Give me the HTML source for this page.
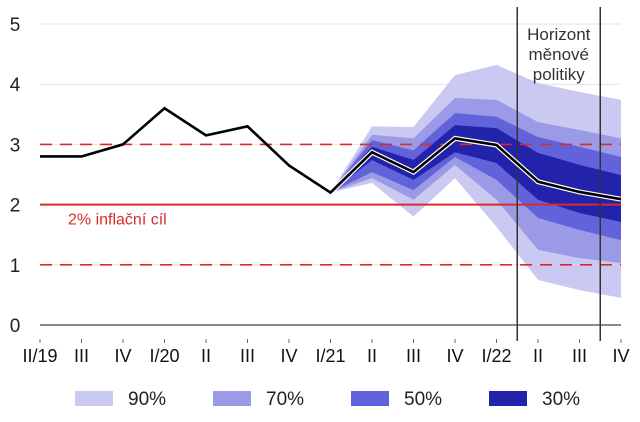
<!DOCTYPE html>
<html><head><meta charset="utf-8"><style>
body{margin:0;background:#fff;font-family:"Liberation Sans",sans-serif}
svg text{font-family:"Liberation Sans",sans-serif}
</style></head><body>
<svg id="c" width="640" height="417" xmlns="http://www.w3.org/2000/svg"></svg>
<script>
const categories=["II/19","III","IV","I/20","II","III","IV","I/21","II","III","IV","I/22","II","III","IV"];
const actualValues=[2.8,2.8,3.0,3.6,3.15,3.3,2.65,2.2,2.87,2.54,3.1,2.99,2.38,2.21,2.09];
const fanStart=7;
const band90Upper=[2.2,3.3,3.29,4.15,4.32,4.02,3.87,3.74];
const band90Lower=[2.2,2.36,1.8,2.44,1.63,0.75,0.58,0.45];
const band70Upper=[2.2,3.16,3.1,3.77,3.74,3.37,3.24,3.1];
const band70Lower=[2.2,2.44,2.08,2.66,2.08,1.25,1.11,1.03];
const band50Upper=[2.2,3.07,2.9,3.52,3.46,3.12,2.96,2.79];
const band50Lower=[2.2,2.54,2.24,2.79,2.41,1.78,1.58,1.41];
const band30Upper=[2.2,2.96,2.74,3.32,3.27,2.86,2.66,2.49];
const band30Lower=[2.2,2.74,2.41,2.87,2.69,2.08,1.86,1.71];
const yTicks=[0,1,2,3,4,5];
const targetValue=2, tolUpper=3, tolLower=1;
const horizonIdx=[11.5,13.5];
const legendLabels=["90%","70%","50%","30%"];
const colors=["#c9c9f2","#9a9ae6","#6262da","#2222aa"];

const svg=document.getElementById('c');const NS="http://www.w3.org/2000/svg";
const X0=40,X1=621,Y0=325,Y5=24;
const xs=i=>X0+i*(X1-X0)/(categories.length-1);
const ys=v=>Y0-v*(Y0-Y5)/5;
function mk(t,a,p){const e=document.createElementNS(NS,t);for(const k in a)e.setAttribute(k,a[k]);(p||svg).appendChild(e);return e;}

yTicks.forEach(v=>{
 if(v>0){const g=mk('line',{x1:X0,x2:X1,y1:ys(v),y2:ys(v),stroke:'#e2e2e2','stroke-width':1});
 
 }
 const t=mk('text',{x:15,y:ys(v)+7,'font-size':19,'text-anchor':'middle',fill:'#222'});t.textContent=v;
 
 
});
const bands=[[band90Upper,band90Lower],[band70Upper,band70Lower],[band50Upper,band50Lower],[band30Upper,band30Lower]];
bands.forEach((b,k)=>{
 let pts=[];b[0].forEach((v,i)=>pts.push(xs(fanStart+i)+','+ys(v)));
 for(let i=b[1].length-1;i>=0;i--)pts.push(xs(fanStart+i)+','+ys(b[1][i]));
 const p=mk('polygon',{points:pts.join(' '),fill:colors[k]});
 
 
});
[tolUpper,tolLower].forEach(v=>{const l=mk('line',{x1:X0,x2:X1,y1:ys(v),y2:ys(v),stroke:'#d92b2b','stroke-width':1.6,'stroke-dasharray':'12,8'});
 
 });
const tl=mk('line',{x1:X0,x2:X1,y1:ys(targetValue),y2:ys(targetValue),stroke:'#d92b2b','stroke-width':2});


const tt=mk('text',{x:68,y:ys(targetValue)+20,'font-size':16,fill:'#d92b2b'});tt.textContent='2% inflační cíl';


const ax=mk('line',{x1:X0,x2:X1,y1:Y0,y2:Y0,stroke:'#444','stroke-width':1.2});


horizonIdx.forEach(h=>{const l=mk('line',{x1:xs(h),x2:xs(h),y1:7,y2:341,stroke:'#333','stroke-width':1.5});
 
 });
const hx=(xs(horizonIdx[0])+xs(horizonIdx[1]))/2;
['Horizont','měnové','politiky'].forEach((s,i)=>{const t=mk('text',{x:hx,y:40+i*20,'font-size':17,'text-anchor':'middle',fill:'#333'});t.textContent=s;
 
 });
const lp=actualValues.map((v,i)=>xs(i)+','+ys(v));
const outline=mk('polyline',{points:lp.slice(fanStart).join(' '),fill:'none',stroke:'#fff','stroke-width':5,'stroke-linejoin':'miter'});


const ln=mk('polyline',{points:lp.join(' '),fill:'none',stroke:'#000','stroke-width':2.6,'stroke-linejoin':'miter'});


categories.forEach((c,i)=>{
 const tk=mk('line',{x1:xs(i),x2:xs(i),y1:339,y2:343,stroke:'#666','stroke-width':1});
 
 
 const t=mk('text',{x:xs(i),y:362,'font-size':18,'text-anchor':'middle',fill:'#111'});t.textContent=c;
 
 
});
legendLabels.forEach((s,i)=>{const x=75+i*138;
 const r=mk('rect',{x:x,y:391,width:38,height:15,fill:colors[i]});
 
 
 const t=mk('text',{x:x+53,y:405,'font-size':19,fill:'#222'});t.textContent=s;
 
 });
</script>
</body></html>
